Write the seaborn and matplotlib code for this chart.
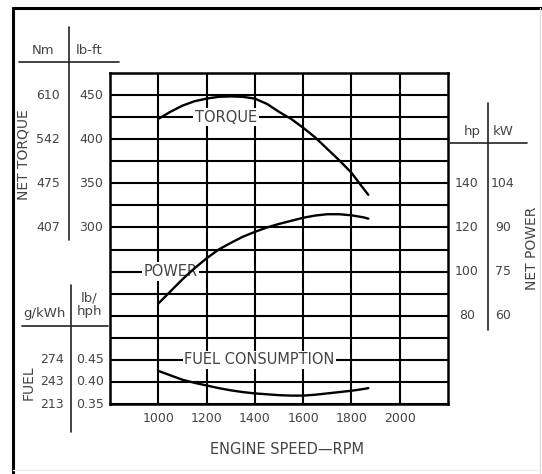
"""Engine performance curve: net torque, net power and fuel consumption vs engine speed."""

import numpy as np
import pandas as pd
import matplotlib
matplotlib.use("Agg")
import matplotlib.pyplot as plt
import matplotlib.transforms as mtransforms
from matplotlib.lines import Line2D
import seaborn as sns

# --- data (every 50 rpm) ---
rpm = [1000, 1050, 1100, 1150, 1200, 1250, 1300, 1350, 1400, 1450,
       1500, 1550, 1600, 1650, 1700, 1750, 1800, 1850, 1870]
torque_lbft = [423, 431, 438, 443, 446, 448, 448.5, 448, 446, 440,
               431, 423, 413, 402, 389, 376, 362, 344, 337]
power_hp = [85.5, 91, 96.5, 101.5, 106, 110, 113, 115.8, 118, 120,
            121.6, 123, 124.4, 125.4, 126, 126, 125.5, 124.6, 124]
fuel_lbhph = [0.425, 0.415, 0.405, 0.398, 0.392, 0.386, 0.381, 0.377, 0.374, 0.372,
              0.370, 0.369, 0.369, 0.371, 0.374, 0.377, 0.380, 0.384, 0.386]

rpm_ticks = [1000, 1200, 1400, 1600, 1800, 2000]
torque_lbft_ticks = [450, 400, 350, 300]
torque_nm_labels = ["610", "542", "475", "407"]
power_hp_ticks = [140, 120, 100, 80]
power_kw_labels = ["104", "90", "75", "60"]
fuel_lbhph_ticks = [0.45, 0.40, 0.35]
fuel_gkwh_labels = ["274", "243", "213"]

df = pd.DataFrame({"rpm": rpm, "torque": torque_lbft,
                   "power": power_hp, "fuel": fuel_lbhph})

sns.set_style("white")
plt.rcParams["font.family"] = ["DejaVu Sans"]

W, H = 542, 474
TXT = "#444444"
FS_NUM = 9
FS_WORD = 10.5
FS_SIDE = 10
FS_HEAD = 9.5

fig = plt.figure(figsize=(W / 100, H / 100), dpi=100)


def fx(px):
    return px / W


def fy(py):
    return 1 - py / H


ax = fig.add_axes([fx(110), fy(404), fx(448) - fx(110), fy(73) - fy(404)])
ax.set_xlim(800, 2200)
ax.set_ylim(100, 475)
ax.set_yticks(np.arange(100, 476, 25))
ax.set_xticks(rpm_ticks)
ax.set_xticklabels([str(t) for t in rpm_ticks], color=TXT, fontsize=FS_NUM)
ax.set_yticklabels([])
ax.tick_params(axis="both", length=0)
ax.tick_params(axis="x", pad=6)
ax.grid(True, color="black", linewidth=1.5)
for s in ax.spines.values():
    s.set_color("black")
    s.set_linewidth(1.8)

# power and fuel share the grid through their own scales
ax_pw = ax.twinx()
ax_pw.set_ylim(40, 190)
ax_fu = ax.twinx()
ax_fu.set_ylim(0.35, 1.10)
for a in (ax_pw, ax_fu):
    a.set_yticks([])
    a.axis("off")

line_kw = dict(color="black", linewidth=1.7, solid_capstyle="round", solid_joinstyle="round")
sns.lineplot(data=df, x="rpm", y="torque", ax=ax, **line_kw)
sns.lineplot(data=df, x="rpm", y="power", ax=ax_pw, **line_kw)
sns.lineplot(data=df, x="rpm", y="fuel", ax=ax_fu, **line_kw)
ax.set_xlabel("")
ax.set_ylabel("")

box = dict(facecolor="white", edgecolor="none", pad=1.2)
ax.text(1281, 425, "TORQUE", ha="center", va="center", fontsize=FS_WORD, color=TXT, bbox=box, zorder=5)
ax.text(1050, 250, "POWER", ha="center", va="center", fontsize=FS_WORD, color=TXT, bbox=box, zorder=5)
ax.text(1420, 150, "FUEL CONSUMPTION", ha="center", va="center", fontsize=FS_WORD, color=TXT,
        bbox=box, zorder=5)

fig.text(fx(287), fy(449), "ENGINE SPEED\u2014RPM", ha="center", va="center", fontsize=FS_WORD, color=TXT)

# --- side scales ---
tr_t = mtransforms.blended_transform_factory(fig.transFigure, ax.transData)
tr_p = mtransforms.blended_transform_factory(fig.transFigure, ax_pw.transData)
tr_f = mtransforms.blended_transform_factory(fig.transFigure, ax_fu.transData)

for v, nm in zip(torque_lbft_ticks, torque_nm_labels):
    fig.text(fx(48), v, nm, transform=tr_t, ha="center", va="center", fontsize=FS_NUM, color=TXT)
    fig.text(fx(91), v, str(v), transform=tr_t, ha="center", va="center", fontsize=FS_NUM, color=TXT)
for v, kw in zip(power_hp_ticks, power_kw_labels):
    fig.text(fx(467), v, str(v), transform=tr_p, ha="center", va="center", fontsize=FS_NUM, color=TXT)
    fig.text(fx(503), v, kw, transform=tr_p, ha="center", va="center", fontsize=FS_NUM, color=TXT)
for v, g in zip(fuel_lbhph_ticks, fuel_gkwh_labels):
    fig.text(fx(52), v, g, transform=tr_f, ha="center", va="center", fontsize=FS_NUM, color=TXT)
    fig.text(fx(90), v, f"{v:.2f}", transform=tr_f, ha="center", va="center", fontsize=FS_NUM, color=TXT)

# headers
fig.text(fx(43), fy(50), "Nm", ha="center", va="center", fontsize=FS_HEAD, color=TXT)
fig.text(fx(89), fy(50), "lb-ft", ha="center", va="center", fontsize=FS_HEAD, color=TXT)
fig.text(fx(44), fy(313), "g/kWh", ha="center", va="center", fontsize=FS_HEAD, color=TXT)
fig.text(fx(89), fy(305), "lb/\nhph", ha="center", va="center", fontsize=FS_HEAD, color=TXT,
         linespacing=1.1)
fig.text(fx(472), fy(132), "hp", ha="center", va="center", fontsize=FS_HEAD, color=TXT)
fig.text(fx(503), fy(132), "kW", ha="center", va="center", fontsize=FS_HEAD, color=TXT)

fig.text(fx(24), fy(155), "NET TORQUE", rotation=90, ha="center", va="center", fontsize=FS_SIDE, color=TXT)
fig.text(fx(29), fy(383), "FUEL", rotation=90, ha="center", va="center", fontsize=FS_SIDE, color=TXT)
fig.text(fx(532), fy(248), "NET POWER", rotation=90, ha="center", va="center", fontsize=FS_SIDE, color=TXT)

# rules of the side scales
rules = [
    ((19, 119), (62, 62)), ((69, 69), (27, 240)),
    ((22, 108), (326, 326)), ((71, 71), (285, 432)),
    ((450, 527), (143, 143)), ((488, 488), (103, 330)),
]
for (x0, x1), (y0, y1) in rules:
    fig.add_artist(Line2D([fx(x0), fx(x1)], [fy(y0), fy(y1)], color="#222222", linewidth=1.2))

# scan frame
fig.add_artist(Line2D([fx(13), fx(13)], [fy(8), fy(474)], color="black", linewidth=2.2))
fig.add_artist(Line2D([fx(13), fx(542)], [fy(8), fy(8)], color="black", linewidth=2.2))
fig.add_artist(Line2D([fx(540), fx(540)], [fy(8), fy(474)], color="#dddddd", linewidth=1.0))
fig.add_artist(Line2D([fx(13), fx(540)], [fy(470), fy(470)], color="#eeeeee", linewidth=1.0))

fig.savefig("out.png", dpi=100)
